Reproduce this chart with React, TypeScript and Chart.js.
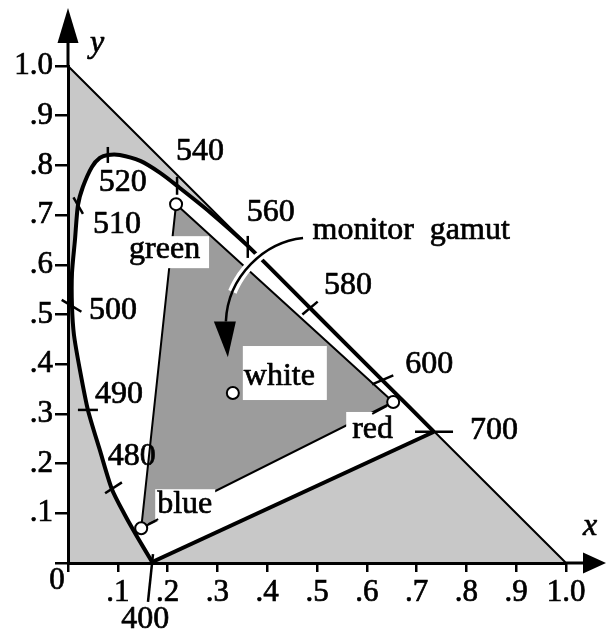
import React, { useEffect, useRef } from 'react';
import { Chart, registerables } from 'chart.js';

Chart.register(...registerables);

const FONT = '"Liberation Serif", "Times New Roman", serif';

// Axis tick labels (0 .. 1.0 in steps of 0.1)
const tickText = ['0', '.1', '.2', '.3', '.4', '.5', '.6', '.7', '.8', '.9', '1.0'];

// Spectral locus (CIE x, y), from 400 nm round to 700 nm
const locusX = [0.169, 0.137, 0.114, 0.088, 0.064, 0.040, 0.024, 0.012, 0.008, 0.008, 0.014, 0.020, 0.030, 0.048, 0.064, 0.080, 0.104, 0.145, 0.185, 0.219, 0.285, 0.361, 0.486, 0.631, 0.735];
const locusY = [0.002, 0.056, 0.097, 0.149, 0.227, 0.308, 0.388, 0.459, 0.517, 0.583, 0.650, 0.720, 0.757, 0.797, 0.815, 0.821, 0.821, 0.809, 0.785, 0.759, 0.706, 0.638, 0.513, 0.368, 0.264];
const locusLabel = ['400', '', '', '480', '', '490', '', '', '500', '', '', '510', '', '', '', '520', '', '', '', '540', '', '560', '580', '600', '700'];

// Outer triangle x + y <= 1
const outerX = [0, 1, 0, 0];
const outerY = [0, 0, 1, 0];

// Monitor primaries and white point
const gamutNames = ['green', 'red', 'blue'];
const gamutX = [0.217, 0.653, 0.147];
const gamutY = [0.722, 0.324, 0.070];
const whiteName = 'white';
const whiteX = 0.331;
const whiteY = 0.342;

const annotationText = 'monitor  gamut';

// ---- styling / layout of decorations (pixels, relative to the marked point) ----
const tickMarkStyle: Record<string, { angle: number; from: number; to: number; dx: number; dy: number }> = {
  '400': { angle: 96, from: -8, to: 40, dx: -7, dy: 58 },
  '480': { angle: -33, from: -8, to: 12, dx: 20, dy: -32 },
  '490': { angle: 0, from: -10, to: 10, dx: 31, dy: -15 },
  '500': { angle: 31, from: -12, to: 11, dx: 41, dy: 5 },
  '510': { angle: 60, from: -9, to: 10, dx: 39, dy: 19 },
  '520': { angle: 90, from: -8, to: 8, dx: 15, dy: 28 },
  '540': { angle: 90, from: -9, to: 9, dx: 23, dy: -34 },
  '560': { angle: 90, from: -10, to: 12, dx: 23, dy: -33 },
  '580': { angle: -40, from: -10, to: 10, dx: 38, dy: -22 },
  '600': { angle: -23, from: -11, to: 12, dx: 47, dy: -16 },
  '700': { angle: 0, from: -19, to: 19, dx: 60, dy: -1 },
};

const pointLabelStyle: Record<string, { tx: number; ty: number; box: number[]; lead?: number[] }> = {
  green: { tx: -47, ty: 54, box: [-49, 32, 33, 64] },
  red: { tx: -41, ty: 36, box: [-47, 10, 5, 44], lead: [-6, 4, -21, 12] },
  blue: { tx: 16, ty: -15, box: [14, -39, 74, -7], lead: [7, -4, 17, -9] },
  white: { tx: 11, ty: -8, box: [10, -47, 94, 7] },
};

// arrow of the "monitor gamut" note, in data units
const noteArrow = { sx: 0.472, sy: 0.654, c1x: 0.396, c1y: 0.646, c2x: 0.321, c2y: 0.579, ex: 0.317, ey: 0.486, tipX: 0.321, tipY: 0.414, textX: 0.491, textY: 0.651 };

const LIGHT = '#c8c8c8';
const DARK = '#9c9c9c';
const LABEL_PX = 32;
const TICK_PX = 31;
const TEXT_STROKE = 0.7;

const heavyText = (ctx: any, s: string, x: number, y: number) => {
  ctx.lineWidth = TEXT_STROKE;
  ctx.strokeStyle = '#000';
  ctx.strokeText(s, x, y);
  ctx.fillStyle = '#000';
  ctx.fillText(s, x, y);
};

const decorPlugin = {
  id: 'decor',
  afterDatasetsDraw(chart: any) {
    const { ctx } = chart;
    const xs = chart.scales.x;
    const ys = chart.scales.y;
    const P = (vx: number, vy: number) => [xs.getPixelForValue(vx), ys.getPixelForValue(vy)];
    ctx.save();
    ctx.strokeStyle = '#000';
    ctx.fillStyle = '#000';
    ctx.lineCap = 'butt';
    ctx.lineJoin = 'round';
    ctx.font = `${LABEL_PX}px ${FONT}`;

    // wavelength ticks and labels
    ctx.textAlign = 'center';
    ctx.textBaseline = 'middle';
    locusLabel.forEach((lab, i) => {
      if (!lab) return;
      const s = tickMarkStyle[lab];
      const [cx, cy] = P(locusX[i], locusY[i]);
      const a = (s.angle * Math.PI) / 180;
      const c = Math.cos(a);
      const sn = Math.sin(a);
      ctx.strokeStyle = '#000';
      ctx.lineWidth = 2.5;
      ctx.beginPath();
      ctx.moveTo(cx + c * s.from, cy + sn * s.from);
      ctx.lineTo(cx + c * s.to, cy + sn * s.to);
      ctx.stroke();
      heavyText(ctx, lab, cx + s.dx, cy + s.dy);
    });

    // labels of the primaries and white point
    const names = [...gamutNames, whiteName];
    const xsV = [...gamutX, whiteX];
    const ysV = [...gamutY, whiteY];
    ctx.textAlign = 'left';
    ctx.textBaseline = 'alphabetic';
    names.forEach((n, i) => {
      const st = pointLabelStyle[n];
      const [cx, cy] = P(xsV[i], ysV[i]);
      ctx.fillStyle = '#fff';
      ctx.fillRect(cx + st.box[0], cy + st.box[1], st.box[2] - st.box[0], st.box[3] - st.box[1]);
      heavyText(ctx, n, cx + st.tx, cy + st.ty);
      if (st.lead) {
        ctx.strokeStyle = '#000';
        ctx.lineWidth = 2;
        ctx.beginPath();
        ctx.moveTo(cx + st.lead[0], cy + st.lead[1]);
        ctx.lineTo(cx + st.lead[2], cy + st.lead[3]);
        ctx.stroke();
      }
    });

    // monitor gamut note with curved arrow
    const [sx, sy] = P(noteArrow.sx, noteArrow.sy);
    const [c1x, c1y] = P(noteArrow.c1x, noteArrow.c1y);
    const [c2x, c2y] = P(noteArrow.c2x, noteArrow.c2y);
    const [ex, ey] = P(noteArrow.ex, noteArrow.ey);
    const bez = (t: number) => {
      const u = 1 - t;
      return [
        u * u * u * sx + 3 * u * u * t * c1x + 3 * u * t * t * c2x + t * t * t * ex,
        u * u * u * sy + 3 * u * u * t * c1y + 3 * u * t * t * c2y + t * t * t * ey,
      ];
    };
    ctx.strokeStyle = '#fff';
    ctx.lineWidth = 9;
    ctx.beginPath();
    for (let k = 0; k <= 20; k++) {
      const t = 0.25 + (0.52 * k) / 20;
      const [bx, by] = bez(t);
      if (k === 0) ctx.moveTo(bx, by);
      else ctx.lineTo(bx, by);
    }
    ctx.stroke();
    ctx.strokeStyle = '#000';
    ctx.lineWidth = 2.5;
    ctx.beginPath();
    ctx.moveTo(sx, sy);
    ctx.bezierCurveTo(c1x, c1y, c2x, c2y, ex, ey);
    ctx.stroke();
    const [tx, ty] = P(noteArrow.tipX, noteArrow.tipY);
    ctx.fillStyle = '#000';
    ctx.beginPath();
    ctx.moveTo(tx, ty);
    ctx.lineTo(ex - 12, ey);
    ctx.lineTo(ex + 10, ey);
    ctx.closePath();
    ctx.fill();
    const [ntx, nty] = P(noteArrow.textX, noteArrow.textY);
    heavyText(ctx, annotationText, ntx, nty);
    ctx.restore();
  },
  afterDraw(chart: any) {
    const { ctx } = chart;
    const xs = chart.scales.x;
    const ys = chart.scales.y;
    const x0 = xs.getPixelForValue(0);
    const x1 = xs.getPixelForValue(1);
    const y0 = ys.getPixelForValue(0);
    const y1 = ys.getPixelForValue(1);
    ctx.save();
    ctx.strokeStyle = '#000';
    ctx.fillStyle = '#000';
    ctx.lineWidth = 3;
    ctx.beginPath();
    ctx.moveTo(x0, y1);
    ctx.lineTo(x0, y1 - 24);
    ctx.moveTo(x1, y0);
    ctx.lineTo(x1 + 19, y0);
    ctx.stroke();
    ctx.beginPath();
    ctx.moveTo(x0, y1 - 58);
    ctx.lineTo(x0 - 10.5, y1 - 23);
    ctx.lineTo(x0 + 10.5, y1 - 23);
    ctx.closePath();
    ctx.fill();
    ctx.beginPath();
    ctx.moveTo(x1 + 40, y0);
    ctx.lineTo(x1 + 17, y0 - 10.5);
    ctx.lineTo(x1 + 17, y0 + 10.5);
    ctx.closePath();
    ctx.fill();
    ctx.font = `italic ${LABEL_PX}px ${FONT}`;
    ctx.textAlign = 'center';
    ctx.textBaseline = 'middle';
    heavyText(ctx, 'x', x1 + 24, y0 - 36);
    heavyText(ctx, 'y', x0 + 29, y1 - 22);
    ctx.font = `${TICK_PX}px ${FONT}`;
    heavyText(ctx, tickText[0], x0 - 11, y0 + 18);
    ctx.restore();
  },
};

const toPts = (xa: number[], ya: number[]) => xa.map((v, i) => ({ x: v, y: ya[i] }));

const tickLabel = (v: any) => {
  const i = Math.round(Number(v) * 10);
  return i === 0 ? '' : tickText[i];
};

export default function App() {
  const ref = useRef<HTMLCanvasElement | null>(null);
  useEffect(() => {
    if (!ref.current) return;
    const last = locusX.length - 1;
    const gamutLoop = [0, 1, 2, 0];
    const chart = new Chart(ref.current, {
      type: 'scatter',
      data: {
        datasets: [
          {
            data: toPts(outerX, outerY),
            showLine: true,
            fill: 'shape',
            backgroundColor: LIGHT,
            borderColor: '#000',
            borderWidth: 2,
            pointRadius: 0,
            order: 10,
          },
          {
            data: toPts(locusX, locusY),
            showLine: true,
            fill: 'shape',
            tension: 0.25,
            backgroundColor: '#fff',
            borderColor: '#000',
            borderWidth: 4,
            pointRadius: 0,
            order: 9,
          },
          {
            data: toPts([locusX[0], locusX[last]], [locusY[0], locusY[last]]),
            showLine: true,
            borderColor: '#000',
            borderWidth: 4,
            pointRadius: 0,
            order: 8,
          },
          {
            data: toPts(gamutLoop.map((i) => gamutX[i]), gamutLoop.map((i) => gamutY[i])),
            showLine: true,
            fill: 'shape',
            backgroundColor: DARK,
            borderColor: '#000',
            borderWidth: 2,
            pointRadius: 0,
            order: 7,
          },
          {
            data: toPts([...gamutX, whiteX], [...gamutY, whiteY]),
            showLine: false,
            pointRadius: 6,
            pointBackgroundColor: '#fff',
            pointBorderColor: '#000',
            pointBorderWidth: 2,
            order: 1,
          },
        ] as any,
      },
      options: {
        animation: false,
        responsive: false,
        devicePixelRatio: 1,
        events: [],
        layout: { padding: { left: 0, right: 42, top: 66, bottom: 0 } },
        plugins: { legend: { display: false }, tooltip: { enabled: false } },
        scales: {
          x: {
            type: 'linear',
            min: 0,
            max: 1,
            afterFit: (s: any) => {
              s.height = 70;
            },
            grid: { drawOnChartArea: false, drawTicks: true, tickLength: 9, color: '#000', lineWidth: 2.5 },
            border: { display: true, color: '#000', width: 3, z: 1 },
            ticks: {
              stepSize: 0.1,
              padding: 2,
              autoSkip: false,
              maxRotation: 0,
              color: '#000',
              textStrokeColor: '#000',
              textStrokeWidth: TEXT_STROKE,
              font: { family: FONT, size: TICK_PX },
              callback: tickLabel,
            },
          },
          y: {
            type: 'linear',
            min: 0,
            max: 1,
            afterFit: (s: any) => {
              s.width = 68;
            },
            grid: { drawOnChartArea: false, drawTicks: true, tickLength: 13, color: '#000', lineWidth: 2.5 },
            border: { display: true, color: '#000', width: 3, z: 1 },
            ticks: {
              stepSize: 0.1,
              padding: 2,
              autoSkip: false,
              color: '#000',
              textStrokeColor: '#000',
              textStrokeWidth: TEXT_STROKE,
              font: { family: FONT, size: TICK_PX },
              callback: tickLabel,
            },
          },
        },
      } as any,
      plugins: [decorPlugin],
    });
    return () => chart.destroy();
  }, []);
  return (
    <div style={{ position: 'absolute', left: 0, top: 0, width: 608, height: 633, background: '#fff' }}>
      <canvas ref={ref} width={608} height={633} style={{ display: 'block' }} />
    </div>
  );
}
